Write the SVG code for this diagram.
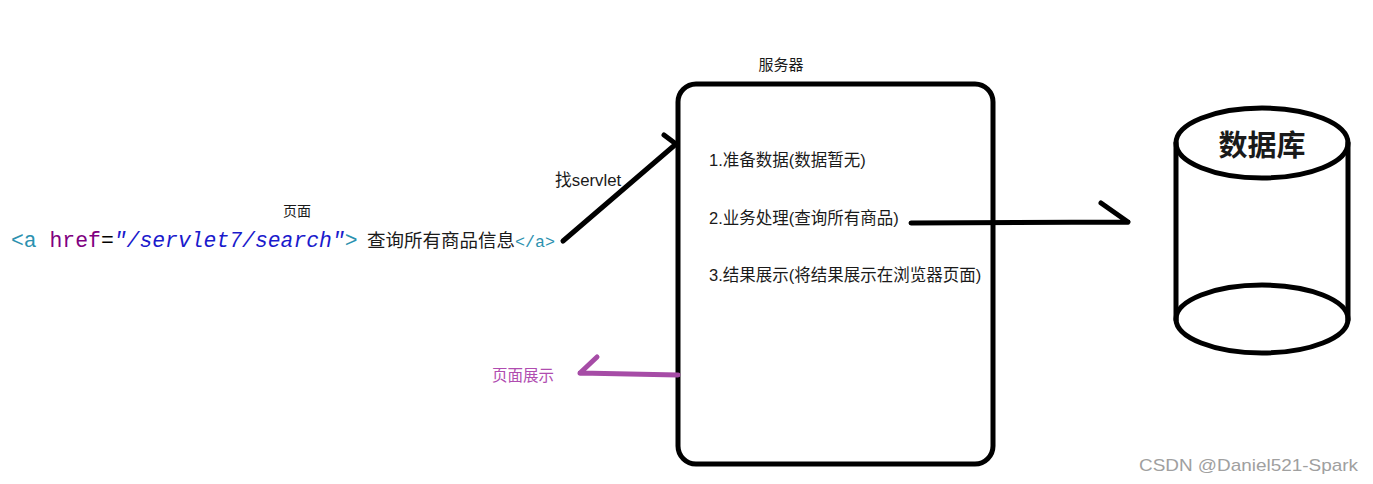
<svg xmlns="http://www.w3.org/2000/svg" width="1373" height="484" viewBox="0 0 1373 484">
<style>
.t{font-family:"Liberation Sans","Noto Sans CJK SC",sans-serif;fill:#1a1a1a}
.code{font-family:"Liberation Mono","DejaVu Sans Mono","Noto Sans CJK SC",monospace}
.ln{fill:none;stroke:#000;stroke-width:5;stroke-linecap:round;stroke-linejoin:round}
.pl{fill:none;stroke:#a64ca6;stroke-width:5;stroke-linecap:round;stroke-linejoin:round}
</style>
<rect width="1373" height="484" fill="#fff"/>
<g id="page">
<text class="t" x="297" y="216" font-size="14" text-anchor="middle">页面</text>
<text class="code" x="11" y="247" font-size="21.4"><tspan fill="#2b91af">&lt;a</tspan><tspan fill="#800080"> href</tspan><tspan fill="#000">=</tspan><tspan fill="#1a1acc" font-style="italic">"/servlet7/search"</tspan><tspan fill="#2b91af">&gt;</tspan></text>
<text class="t" x="367" y="247" font-size="18" textLength="148" lengthAdjust="spacingAndGlyphs">查询所有商品信息</text>
<text class="code" x="515" y="247" font-size="16" fill="#2b91af" textLength="40" lengthAdjust="spacingAndGlyphs">&lt;/a&gt;</text>
</g>
<g id="server">
<text class="t" x="781" y="70" font-size="15" text-anchor="middle">服务器</text>
<rect class="ln" x="678" y="84" width="315" height="380" rx="18"/>
<text class="t" x="709" y="166" font-size="16.5">1.准备数据(数据暂无)</text>
<text class="t" x="709" y="224" font-size="16.5">2.业务处理(查询所有商品)</text>
<text class="t" x="709" y="281" font-size="16.5">3.结果展示(将结果展示在浏览器页面)</text>
</g>
<g id="database">
<path class="ln" d="M1176,143 V320 M1348,143 V320"/>
<ellipse class="ln" cx="1262" cy="143" rx="86" ry="35"/>
<ellipse class="ln" cx="1262" cy="319" rx="86" ry="34"/>
<text class="t" x="1262" y="156" font-size="29" font-weight="bold" text-anchor="middle" fill="#000">数据库</text>
</g>
<g id="connectors">
<path class="ln" d="M563,241 L676,144 M664,135 L676,144"/>
<text class="t" x="555" y="186" font-size="16.8">找servlet</text>
<path class="ln" d="M911,223 L1128,222 M1101,203 L1128,222"/>
<path class="pl" d="M678,375 L580,373 M597,357 L580,373"/>
<text class="t" x="492" y="381" font-size="15.5" style="fill:#b04cb0">页面展示</text>
</g>
<text x="1139" y="471" font-family="Liberation Sans, sans-serif" font-size="17" fill="#a0a0a0" textLength="219" lengthAdjust="spacingAndGlyphs">CSDN @Daniel521-Spark</text>
</svg>
